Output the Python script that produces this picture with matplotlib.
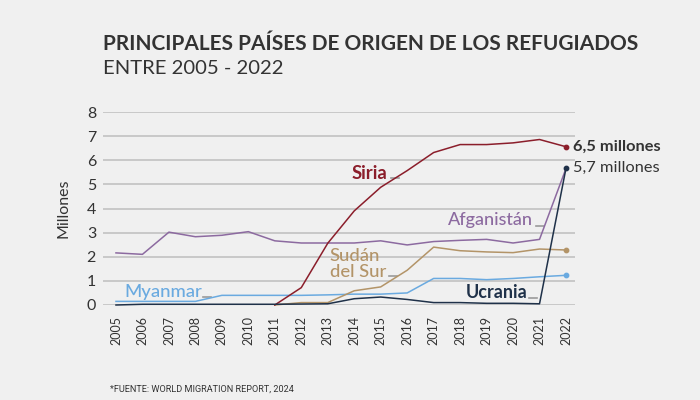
# -*- coding: utf-8 -*-
"""
Principales paises de origen de los refugiados, 2005 - 2022
"""
import numpy as np
import matplotlib.pyplot as plt

plt.rcParams['font.family'] = ['Lato', 'DejaVu Sans']

years = list(range(2005, 2023))

# millones de refugiados
siria_years = list(range(2011, 2023))
siria = [0.0, 0.72, 2.56, 3.9, 4.88, 5.57, 6.32, 6.65, 6.65, 6.72, 6.86, 6.56]

afganistan = [2.16, 2.1, 3.02, 2.83, 2.89, 3.04, 2.66, 2.57, 2.57, 2.57,
              2.66, 2.49, 2.63, 2.68, 2.72, 2.57, 2.72, 5.66]

sudan_years = list(range(2011, 2023))
sudan = [0.0, 0.1, 0.1, 0.59, 0.75, 1.44, 2.4, 2.25, 2.2, 2.17, 2.32, 2.28]

myanmar = [0.15, 0.15, 0.15, 0.15, 0.4, 0.4, 0.4, 0.4, 0.42, 0.45,
           0.45, 0.5, 1.1, 1.1, 1.05, 1.1, 1.17, 1.23]

ucrania = [0.0, 0.03, 0.03, 0.03, 0.03, 0.03, 0.03, 0.04, 0.05, 0.26,
           0.33, 0.23, 0.1, 0.1, 0.07, 0.07, 0.05, 5.67]

c_siria = '#8B1E2B'
c_afg = '#8C6AA0'
c_sudan = '#B39468'
c_myan = '#6AAAE0'
c_ucr = '#1F3149'
c_text = '#333333'
bg = '#F0F0F0'

fig = plt.figure(figsize=(7, 4), dpi=100, facecolor=bg)
ax = fig.add_axes([103 / 700, 95 / 400, 472 / 700, 193 / 400])
ax.set_facecolor(bg)

ax.set_xlim(2004.51, 2022.34)
ax.set_ylim(0, 8)
ax.set_yticks(range(0, 9))
ax.set_xticks(years)
ax.set_xticklabels([str(y) for y in years], rotation=90, fontsize=9,
                   color=c_text)
ax.set_yticklabels([str(v) for v in range(0, 9)], fontsize=11.5,
                   color=c_text)
ax.tick_params(length=0, pad=5)
ax.tick_params(axis='x', pad=8)
ax.grid(axis='y', color='#C8C8C8', lw=1.4)
ax.set_axisbelow(True)
for s in ax.spines.values():
    s.set_visible(False)

ax.set_ylabel('Millones', fontsize=11.5, color=c_text, labelpad=12)

lw = 1.1
ax.plot(years, afganistan, color=c_afg, lw=lw, clip_on=False, zorder=3)
ax.plot(years, myanmar, color=c_myan, lw=lw, clip_on=False, zorder=3)
ax.plot(sudan_years, sudan, color=c_sudan, lw=lw, clip_on=False, zorder=3)
ax.plot(siria_years, siria, color=c_siria, lw=lw, clip_on=False, zorder=4)
ax.plot(years, ucrania, color=c_ucr, lw=lw, clip_on=False, zorder=5)

# puntos finales
ax.scatter([2022], [siria[-1]], s=10, color=c_siria, zorder=6, clip_on=False)
ax.scatter([2022], [sudan[-1]], s=10, color=c_sudan, zorder=6, clip_on=False)
ax.scatter([2022], [myanmar[-1]], s=10, color=c_myan, zorder=6, clip_on=False)
ax.scatter([2022], [ucrania[-1]], s=10, color=c_ucr, zorder=6, clip_on=False)

ax.text(2022.25, siria[-1], '6,5 millones', fontsize=11.8, fontweight='bold',
        color=c_text, va='center', ha='left')
ax.text(2022.25, ucrania[-1], '5,7 millones', fontsize=11.8,
        color=c_text, va='center', ha='left')

# etiquetas de las series (x izquierda, y centro)
labels = [
    ('Siria', 2013.9, 5.47, c_siria, 'bold', 13.3),
    ('Afganistán', 2017.55, 3.52, c_afg, 'medium', 13.0),
    ('Sudán\ndel Sur', 2013.08, 1.70, c_sudan, 'medium', 13.3),
    ('Myanmar', 2005.3, 0.55, c_myan, 'medium', 13.3),
    ('Ucrania', 2018.2, 0.5, c_ucr, 'bold', 13.0),
]
for txt, x, y, col, fw, fs in labels:
    ax.text(x, y, txt, fontsize=fs, color=col, fontweight=fw,
            ha='left', va='center', linespacing=1.0)

dashes = [(2015.4, 2015.7, 5.26), (2020.86, 2021.16, 3.27),
          (2015.3, 2015.6, 1.2), (2008.3, 2008.6, 0.34),
          (2020.62, 2020.92, 0.28)]
for x0, x1, y in dashes:
    ax.plot([x0, x1], [y, y], color='#9A9A9A', lw=1.2, zorder=2)

fig.text(103 / 700, 1 - 44 / 400, 'PRINCIPALES PAÍSES DE ORIGEN DE LOS REFUGIADOS',
         fontsize=15, fontweight='bold', color=c_text, va='center', ha='left')
fig.text(103 / 700, 1 - 69 / 400, 'ENTRE 2005 - 2022',
         fontsize=14.6, color=c_text, va='center', ha='left')
fig.text(110 / 700, 1 - 389 / 400, '*FUENTE: WORLD MIGRATION REPORT, 2024',
         fontsize=6.6, color=c_text, va='center', ha='left',
         family=['Roboto', 'DejaVu Sans'])

fig.savefig('out.png', dpi=100, facecolor=bg)
